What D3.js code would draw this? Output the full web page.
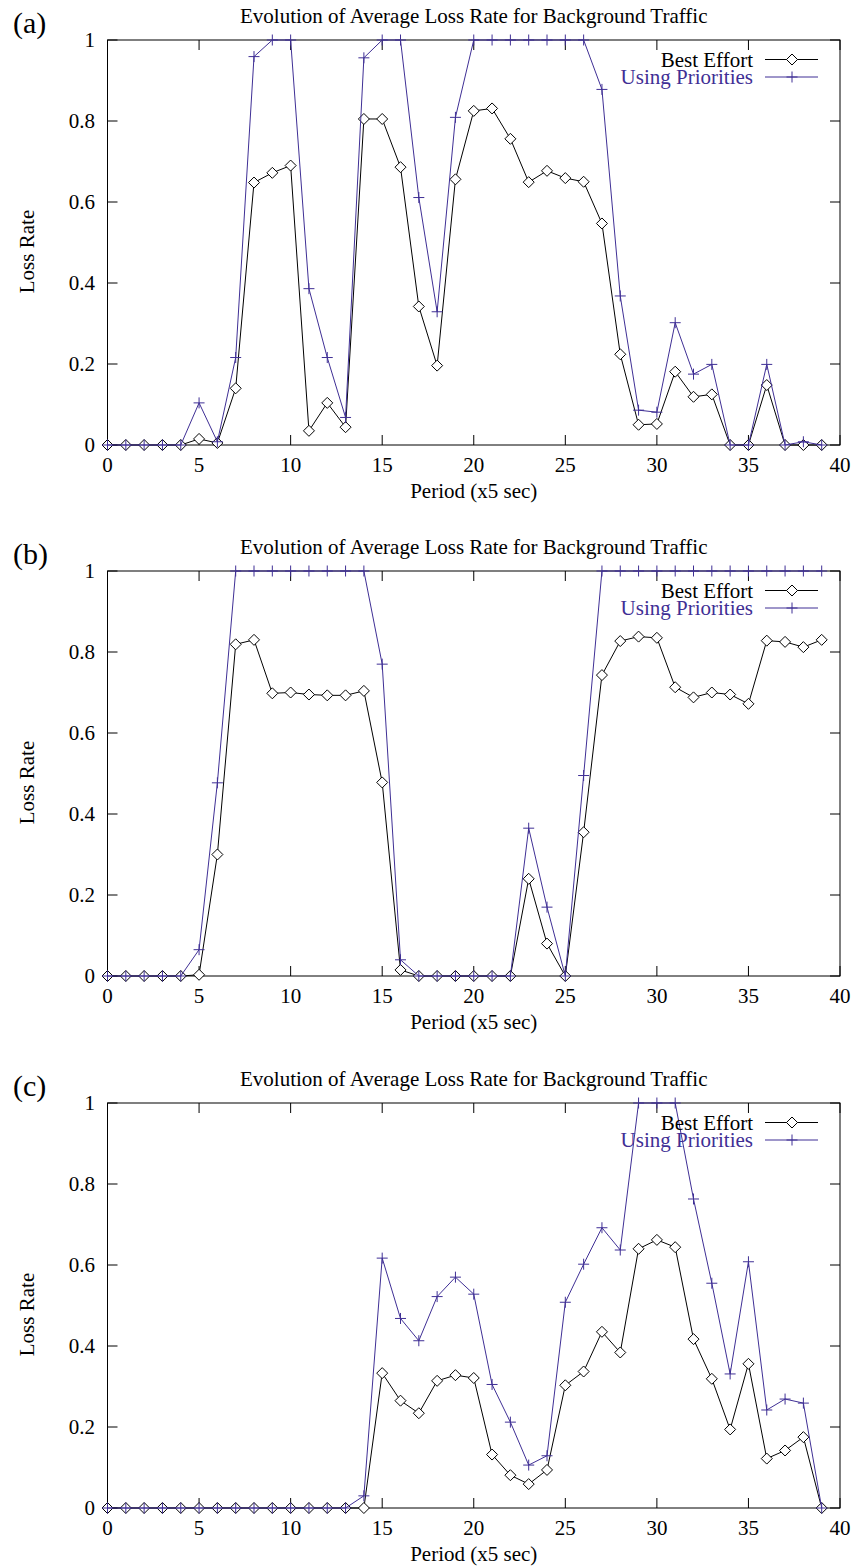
<!DOCTYPE html>
<html><head><meta charset="utf-8">
<script src="https://cdn.jsdelivr.net/npm/d3@7"></script>
<style>
html,body{margin:0;padding:0;background:#fff;}
svg{display:block;}
text{font-family:"Liberation Serif","Times New Roman",serif;}
</style></head>
<body>
<script>
const periods = [0,1,2,3,4,5,6,7,8,9,10,11,12,13,14,15,16,17,18,19,20,21,22,23,24,25,26,27,28,29,30,31,32,33,34,35,36,37,38,39];
const xTicks = [0,5,10,15,20,25,30,35,40];
const yTicks = [0,0.2,0.4,0.6,0.8,1];
const yTickLabels = ["0","0.2","0.4","0.6","0.8","1"];
const panelLabels = ["(a)","(b)","(c)"];
const titleText = "Evolution of Average Loss Rate for Background Traffic";
const xLabel = "Period (x5 sec)";
const yLabel = "Loss Rate";
const seriesNames = ["Best Effort","Using Priorities"];

const bestEffortA = [0,0,0,0,0,0.015,0.005,0.14,0.648,0.672,0.69,0.035,0.104,0.044,0.805,0.805,0.686,0.342,0.196,0.656,0.825,0.831,0.756,0.649,0.677,0.659,0.65,0.547,0.224,0.05,0.052,0.181,0.119,0.125,0,0,0.148,0,0,0];
const prioritiesA = [0,0,0,0,0,0.104,0.008,0.216,0.959,1,1,0.386,0.216,0.068,0.956,1,1,0.611,0.329,0.809,1,1,1,1,1,1,1,0.878,0.368,0.086,0.081,0.302,0.175,0.199,0,0,0.199,0,0.008,0];

const bestEffortB = [0,0,0,0,0,0.003,0.30,0.819,0.83,0.698,0.70,0.695,0.693,0.693,0.704,0.478,0.015,0,0,0,0,0,0,0.24,0.08,0,0.355,0.743,0.827,0.838,0.835,0.713,0.688,0.70,0.695,0.672,0.828,0.825,0.812,0.83];
const prioritiesB = [0,0,0,0,0,0.065,0.477,1,1,1,1,1,1,1,1,0.77,0.04,0,0,0,0,0,0,0.365,0.17,0,0.495,1,1,1,1,1,1,1,1,1,1,1,1,1];

const bestEffortC = [0,0,0,0,0,0,0,0,0,0,0,0,0,0,0,0.333,0.265,0.234,0.314,0.328,0.321,0.132,0.081,0.059,0.094,0.303,0.337,0.435,0.384,0.64,0.662,0.644,0.417,0.319,0.194,0.356,0.122,0.142,0.175,0];
const prioritiesC = [0,0,0,0,0,0,0,0,0,0,0,0,0,0,0.03,0.617,0.468,0.413,0.522,0.57,0.528,0.305,0.212,0.106,0.129,0.508,0.602,0.692,0.637,1,1,1,0.763,0.555,0.331,0.608,0.242,0.269,0.259,0];

const panels = [
  {label: panelLabels[0], be: bestEffortA, pr: prioritiesA},
  {label: panelLabels[1], be: bestEffortB, pr: prioritiesB},
  {label: panelLabels[2], be: bestEffortC, pr: prioritiesC}
];

const W = 858, H = 1568;
const PURPLE = "#3f2f95";
const panelTops = [40, 571, 1103];
const plotLeft = 107.5, plotRight = 840, plotH = 405;
const FS = 21;

const svg = d3.select("body").append("svg").attr("width", W).attr("height", H);

const x = d3.scaleLinear().domain([0,40]).range([plotLeft, plotRight]);

panels.forEach((p, i) => {
  const top = panelTops[i];
  const bottom = top + plotH;
  const y = d3.scaleLinear().domain([0,1]).range([bottom, top]);
  const g = svg.append("g");

  // panel label
  g.append("text").attr("x", 13).attr("y", top - 7).attr("font-size", 30).text(p.label);
  // title
  g.append("text").attr("x", (plotLeft + plotRight)/2).attr("y", top - 17.5)
    .attr("text-anchor", "middle").attr("font-size", FS).text(titleText);

  // ticks (inward, mirrored)
  const tk = 10;
  xTicks.forEach(t => {
    g.append("line").attr("x1", x(t)).attr("x2", x(t)).attr("y1", bottom).attr("y2", bottom - tk).attr("stroke", "#000");
    g.append("line").attr("x1", x(t)).attr("x2", x(t)).attr("y1", top).attr("y2", top + tk).attr("stroke", "#000");
    g.append("text").attr("x", x(t)).attr("y", bottom + 27).attr("text-anchor", "middle").attr("font-size", FS).text(t);
  });
  yTicks.forEach((t, k) => {
    g.append("line").attr("x1", plotLeft).attr("x2", plotLeft + tk).attr("y1", y(t)).attr("y2", y(t)).attr("stroke", "#000");
    g.append("line").attr("x1", plotRight).attr("x2", plotRight - tk).attr("y1", y(t)).attr("y2", y(t)).attr("stroke", "#000");
    g.append("text").attr("x", 95).attr("y", y(t) + 7).attr("text-anchor", "end").attr("font-size", FS).text(yTickLabels[k]);
  });

  // border
  g.append("rect").attr("x", plotLeft).attr("y", top).attr("width", plotRight - plotLeft).attr("height", plotH)
    .attr("fill", "none").attr("stroke", "#000").attr("stroke-width", 1);

  // axis labels
  g.append("text").attr("x", (plotLeft + plotRight)/2).attr("y", bottom + 53)
    .attr("text-anchor", "middle").attr("font-size", FS).text(xLabel);
  const ly = (top + bottom)/2 + 9;
  g.append("text").attr("transform", `translate(34,${ly}) rotate(-90)`)
    .attr("text-anchor", "middle").attr("font-size", FS).text(yLabel);

  const line = d3.line().x((d, k) => x(periods[k])).y(d => y(d));

  // Best effort
  g.append("path").datum(p.be).attr("d", line).attr("fill", "none").attr("stroke", "#000").attr("stroke-width", 1);
  g.selectAll(".dia").data(p.be).enter().append("path")
    .attr("d", "M0,-5.5L5.5,0L0,5.5L-5.5,0Z")
    .attr("transform", (d, k) => `translate(${x(periods[k])},${y(d)})`)
    .attr("fill", "#fff").attr("stroke", "#000").attr("stroke-width", 1);

  // Priorities
  g.append("path").datum(p.pr).attr("d", line).attr("fill", "none").attr("stroke", PURPLE).attr("stroke-width", 1);
  g.selectAll(".pl").data(p.pr).enter().append("path")
    .attr("d", "M-5.5,0H5.5M0,-5.5V5.5")
    .attr("transform", (d, k) => `translate(${x(periods[k])},${y(d)})`)
    .attr("fill", "none").attr("stroke", PURPLE).attr("stroke-width", 1);

  // legend
  const lx1 = 765, lx2 = 818, lm = 792;
  const r1 = top + 19.5, r2 = top + 37;
  g.append("text").attr("x", 753).attr("y", r1 + 7).attr("text-anchor", "end").attr("font-size", FS).text(seriesNames[0]);
  g.append("line").attr("x1", lx1).attr("x2", lx2).attr("y1", r1).attr("y2", r1).attr("stroke", "#000");
  g.append("path").attr("d", "M0,-5.5L5.5,0L0,5.5L-5.5,0Z").attr("transform", `translate(${lm},${r1})`)
    .attr("fill", "#fff").attr("stroke", "#000");
  g.append("text").attr("x", 753).attr("y", r2 + 7).attr("text-anchor", "end").attr("font-size", FS).attr("fill", PURPLE).text(seriesNames[1]);
  g.append("line").attr("x1", lx1).attr("x2", lx2).attr("y1", r2).attr("y2", r2).attr("stroke", PURPLE);
  g.append("path").attr("d", "M-5.5,0H5.5M0,-5.5V5.5").attr("transform", `translate(${lm},${r2})`)
    .attr("fill", "none").attr("stroke", PURPLE);
});
</script>
</body></html>
